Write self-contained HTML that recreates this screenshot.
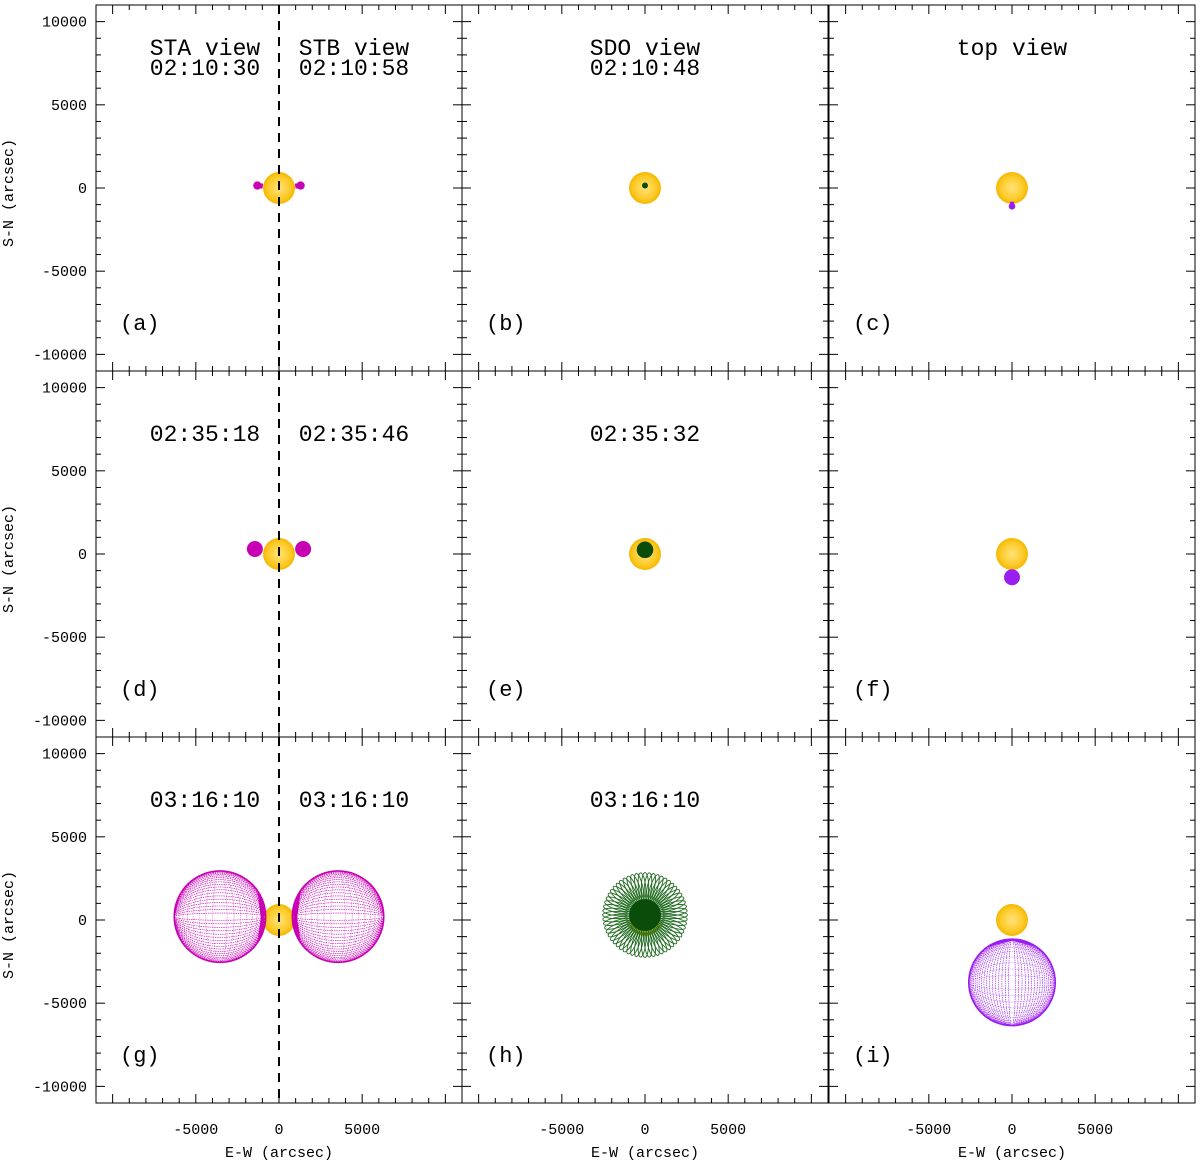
<!DOCTYPE html>
<html><head><meta charset="utf-8"><style>
body{margin:0;background:#fff}
svg text{font-family:"Liberation Mono",monospace;fill:#000}
</style></head><body>
<svg id="fig" width="1200" height="1160" xmlns="http://www.w3.org/2000/svg"></svg>
<script>
const NS="http://www.w3.org/2000/svg";
// ---- data ----
const colX=[96,462,829]; const rowY=[5,371,737]; const PW=366, PH=366;
const axisMin=-11000, axisMax=11000;
const yTicks=[-10000,-5000,0,5000,10000];
const xTicks=[-5000,0,5000];
const panelLabels=["(a)","(b)","(c)","(d)","(e)","(f)","(g)","(h)","(i)"];
const staTimes=["02:10:30","02:35:18","03:16:10"];
const stbTimes=["02:10:58","02:35:46","03:16:10"];
const sdoTimes=["02:10:48","02:35:32","03:16:10"];
const sunRadius=960;
const sideCx=[1300,1450,3550];
const sideCy=[150,300,200];
const sideR=[250,480,2750];
const sdoCy=[150,250,300];
const sdoR=[180,500,950];
const sdoRing=[0,0,2550];
const topCy=[-1100,-1400,-3750];
const topR=[200,480,2600];

const svg=document.getElementById('fig');
function el(tag,attrs,parent){const e=document.createElementNS(NS,tag);for(const k in attrs)e.setAttribute(k,attrs[k]);(parent||svg).appendChild(e);return e;}
function sx(c,v){return colX[c]+(v-axisMin)/(axisMax-axisMin)*PW;}
function sy(r,v){return rowY[r]+PH-(v-axisMin)/(axisMax-axisMin)*PH;}
const k=PW/(axisMax-axisMin);

const defs=el('defs',{});
const rg=el('radialGradient',{id:'sung'},defs);
el('stop',{offset:'0','stop-color':'#ffe27a'},rg);
el('stop',{offset:'0.7','stop-color':'#fccb2a'},rg);
el('stop',{offset:'1','stop-color':'#f5b700'},rg);

function sun(c,r){
  const s=el('circle',{cx:sx(c,0),cy:sy(r,0),r:sunRadius*k,fill:'url(#sung)'});
  
  
}
function bubble(c,r,cx,cy,R,color,dir){
  const g=el('g',{stroke:color,fill:'none','stroke-width':0.6,'stroke-dasharray':'1.5,0.8'});
  
  
  const X=sx(c,cx),Y=sy(r,cy),RR=R*k;
  if(RR<12){el('circle',{cx:X,cy:Y,r:RR,fill:color,stroke:'none'},g);
    const x0=sx(c,cx*0.75),y0=sy(r,cy*0.75);
    el('line',{x1:x0,y1:y0,x2:X,y2:Y,'stroke-width':RR*1.2,'stroke-dasharray':'none'},g);return;}
  el('circle',{cx:X,cy:Y,r:RR,'stroke-width':1.5,'stroke-dasharray':'none'},g);
  for(let i=1;i<20;i++){const f=Math.cos(i/20*Math.PI/2);
    if(dir==='h')el('ellipse',{cx:X,cy:Y,rx:RR,ry:RR*f},g);
    else el('ellipse',{cx:X,cy:Y,rx:RR*f,ry:RR},g);}
  for(let i=1;i<10;i++){const f=Math.cos(i/10*Math.PI/2);
    if(dir==='h')el('ellipse',{cx:X,cy:Y,rx:RR*f,ry:RR,opacity:0.5},g);
    else el('ellipse',{cx:X,cy:Y,rx:RR,ry:RR*f,opacity:0.5},g);}
  let ax,ay;
  if(dir==='h'){ax=sx(c,Math.sign(cx)*(sunRadius+100));ay=sy(r,cy*0.5);}
  else{ax=sx(c,0);ay=sy(r,-(sunRadius+250));}
  for(let i=0;i<=30;i++){const t=-0.6+1.2*i/30;let px,py;
    if(dir==='h'){const a=(cx>0?Math.PI:0)+t;px=X+RR*Math.cos(a);py=Y+RR*Math.sin(a);}
    else{const a=-Math.PI/2+t;px=X+RR*Math.cos(a);py=Y+RR*Math.sin(a);}
    el('line',{x1:ax,y1:ay,x2:px,y2:py,'stroke-width':0.8,'stroke-dasharray':'none'},g);}
}

for(let r=0;r<3;r++)for(let c=0;c<3;c++){
  const x0=colX[c],y0=rowY[r];
  const pg=el('g',{});
  
  
  for(let v=-11000;v<=11000;v+=1000){
    const major=v%5000===0, L=major?9:5;
    const X=sx(c,v), Y=sy(r,v);
    el('line',{x1:X,y1:y0,x2:X,y2:y0+L,stroke:'#000','stroke-width':1},pg);
    el('line',{x1:X,y1:y0+PH,x2:X,y2:y0+PH-L,stroke:'#000','stroke-width':1},pg);
    el('line',{x1:x0,y1:Y,x2:x0+L,y2:Y,stroke:'#000','stroke-width':1},pg);
    el('line',{x1:x0+PW,y1:Y,x2:x0+PW-L,y2:Y,stroke:'#000','stroke-width':1},pg);
  }
  el('rect',{x:x0,y:y0,width:PW,height:PH,fill:'none',stroke:'#000','stroke-width':1},pg);
  const lb=el('text',{x:x0+24,y:y0+325,'font-size':22},pg);lb.textContent=panelLabels[r*3+c];
  
  
  if(c===0){
    for(const v of yTicks){const t=el('text',{x:x0-9,y:sy(r,v)+5,'font-size':15,'text-anchor':'end'});t.textContent=v;
      
      }
    const yt=el('text',{x:0,y:0,'font-size':15,'text-anchor':'middle',transform:`translate(13,${y0+PH/2+5}) rotate(-90)`});
    yt.textContent='S-N (arcsec)';
    
    
  }
  if(r===2){
    for(const v of xTicks){const t=el('text',{x:sx(c,v),y:1134,'font-size':15,'text-anchor':'middle'});t.textContent=v;
      
      }
    const xt=el('text',{x:x0+PW/2,y:1157,'font-size':15,'text-anchor':'middle'});xt.textContent='E-W (arcsec)';
    
    
  }
  const cx0=x0+PW/2;
  function txt(s,x,y,n){const t=el('text',{x:x,y:y,'font-size':23,'text-anchor':'middle'},pg);t.textContent=s;
    
    }
  if(c===0){
    const ty=r===0?75:441+(r-1)*366;
    if(r===0){txt('STA view',205,55,'sta-title');txt('STB view',354,55,'stb-title');}
    txt(staTimes[r],205,ty,'sta-time');txt(stbTimes[r],354,ty,'stb-time');
    sun(0,r);
    bubble(0,r,-sideCx[r],sideCy[r],sideR[r],'#c800b4','h');
    bubble(0,r,sideCx[r],sideCy[r],sideR[r],'#c800b4','h');
    const d=el('line',{x1:279,y1:y0,x2:279,y2:y0+PH,stroke:'#000','stroke-width':2,'stroke-dasharray':'9,7'});
    
    
  }else if(c===1){
    const ty=r===0?75:441+(r-1)*366;
    if(r===0)txt('SDO view',cx0,55,'sdo-title');
    txt(sdoTimes[r],cx0,ty,'sdo-time');
    sun(1,r);
    if(sdoRing[r]>0){
      const g=el('g',{stroke:'#1e6a1e',fill:'none','stroke-width':0.9});
      
      
      const X=sx(1,0),Y=sy(r,sdoCy[r]),Ro=sdoRing[r]*k,Ri=Ro*0.35;
      for(let i=0;i<60;i++){const a=i/60*360;
        el('ellipse',{cx:X+(Ro+Ri)/2,cy:Y,rx:(Ro-Ri)/2,ry:3.6,transform:`rotate(${a} ${X} ${Y})`},g);}
    }
    const dk=el('circle',{cx:sx(1,0),cy:sy(r,sdoCy[r]),r:sdoR[r]*k,fill:'#0a4d0a'});
    
    
  }else{
    if(r===0)txt('top view',cx0,55,'top-title');
    sun(2,r);
    bubble(2,r,0,topCy[r],topR[r],'#9a1ef0','v');
  }
}
</script>
</body></html>
